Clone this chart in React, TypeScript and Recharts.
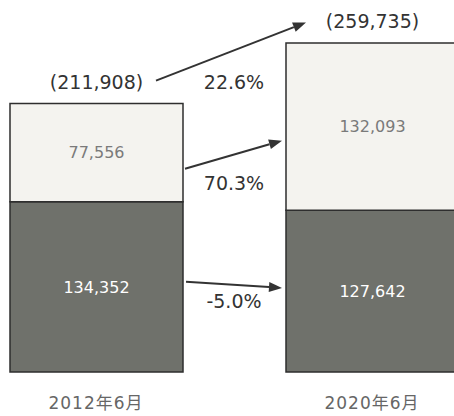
import React from 'react';
import { BarChart, Bar, XAxis, YAxis, LabelList, ReferenceLine } from 'recharts';

const categories = ['2012年6月', '2020年6月'];
const lowerValues = [134352, 127642];
const upperValues = [77556, 132093];

// change arrows from the 2012 bar to the 2020 bar (y in data units)
const arrowFromY = [230000, 160500, 71200];
const arrowToY = [276000, 182600, 66400];
const changeLabels = ['22.6%', '70.3%', '-5.0%'];

// pixel insets from the bar centres, and label offset below the arrow middle
const arrowStartInset = [60, 89, 90];
const arrowEndInset = [66, 90, 90];
const labelDy = [32, 28, 16];

const FONT = '"DejaVu Sans", "Noto Sans CJK JP", sans-serif';

const data = categories.map((name, i) => ({
  name,
  lower: lowerValues[i],
  upper: upperValues[i],
  total: lowerValues[i] + upperValues[i],
}));

const TotalLabel = (props: any) => {
  const vb = props.viewBox ?? props;
  const cx = vb.x + vb.width / 2;
  return (
    <text
      x={cx}
      y={vb.y - 22}
      textAnchor="middle"
      dominantBaseline="central"
      fontSize={19}
      fontFamily={FONT}
      fill="#333"
    >
      ({Number(props.value).toLocaleString('en-US')})
    </text>
  );
};

const makeArrow = (i: number) => (props: any) => {
  const sx = props.x1 + arrowStartInset[i];
  const ex = props.x2 - arrowEndInset[i];
  const sy = props.y1;
  const ey = props.y2;
  const ang = Math.atan2(ey - sy, ex - sx);
  const len = 13;
  const half = 5;
  const bx = ex - len * Math.cos(ang);
  const by = ey - len * Math.sin(ang);
  const px = -Math.sin(ang) * half;
  const py = Math.cos(ang) * half;
  const mx = (props.x1 + props.x2) / 2;
  const my = sy + ((ey - sy) * (mx - sx)) / (ex - sx);
  return (
    <g>
      <line x1={sx} y1={sy} x2={bx} y2={by} stroke="#333" strokeWidth={2} />
      <polygon points={`${ex},${ey} ${bx + px},${by + py} ${bx - px},${by - py}`} fill="#333" />
      <text
        x={mx}
        y={my + labelDy[i]}
        textAnchor="middle"
        dominantBaseline="central"
        fontSize={19}
        fontFamily={FONT}
        fill="#333"
      >
        {changeLabels[i]}
      </text>
    </g>
  );
};

const App: React.FC = () => {
  return (
    <div
      style={{
        position: 'absolute',
        left: 0,
        top: 0,
        width: 454,
        height: 416,
        overflow: 'hidden',
        background: '#fff',
      }}
    >
      <div style={{ position: 'absolute', left: -42, top: 0 }}>
        <BarChart width={552} height={416} data={data} margin={{ top: 43, right: 0, bottom: 0, left: 0 }}>
          <XAxis
            dataKey="name"
            axisLine={false}
            tickLine={false}
            height={44}
            tickMargin={19}
            tick={{ fontSize: 17, fontFamily: FONT, fill: '#666', letterSpacing: 1 }}
          />
          <YAxis hide type="number" scale="linear" domain={[0, 'dataMax']} width={0} />
          <Bar dataKey="lower" stackId="a" barSize={173} fill="#6f716b" stroke="#2e2e2e" strokeWidth={1.5} isAnimationActive={false}>
            <LabelList dataKey="lower" position="center" fill="#fff" fontSize={16} fontFamily={FONT} formatter={(v: any) => Number(v).toLocaleString('en-US')} />
          </Bar>
          <Bar dataKey="upper" stackId="a" barSize={173} fill="#f4f3ef" stroke="#2e2e2e" strokeWidth={1.5} isAnimationActive={false}>
            <LabelList dataKey="upper" position="center" fill="#7a7a7a" fontSize={16} fontFamily={FONT} formatter={(v: any) => Number(v).toLocaleString('en-US')} />
            <LabelList dataKey="total" content={TotalLabel} />
          </Bar>
          {changeLabels.map((label, i) => (
            <ReferenceLine
              key={`arrow-${label}`}
              ifOverflow="visible"
              segment={[
                { x: categories[0], y: arrowFromY[i] },
                { x: categories[1], y: arrowToY[i] },
              ]}
              shape={makeArrow(i)}
            />
          ))}
        </BarChart>
      </div>
    </div>
  );
};

export default App;
